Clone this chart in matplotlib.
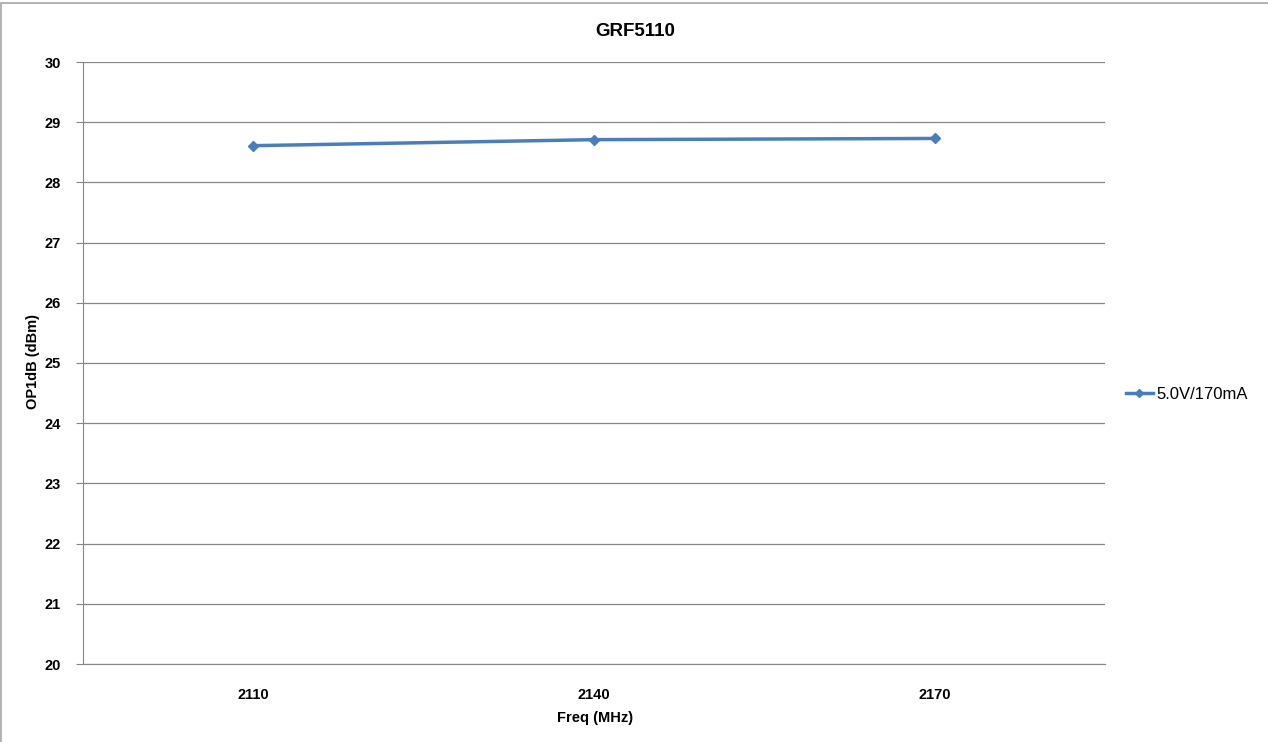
import matplotlib
matplotlib.use("Agg")
import matplotlib.pyplot as plt
from matplotlib.patches import Rectangle
from matplotlib.lines import Line2D

categories = ["2110", "2140", "2170"]
op1db = [28.61, 28.71, 28.73]
series_label = "5.0V/170mA"
y_ticks = [20, 21, 22, 23, 24, 25, 26, 27, 28, 29, 30]

W, H = 1268, 742
plt.rcParams['font.family'] = ['Liberation Sans', 'DejaVu Sans']
fig = plt.figure(figsize=(W / 100, H / 100), dpi=100)

# outer chart border (only left and top edges visible in the crop)
fig.patches.append(Rectangle((1 / W, -0.1), 2, 1.1 - 3 / H, transform=fig.transFigure,
                             fill=False, edgecolor='#a6a6a6', linewidth=1.2))

ax = fig.add_axes([83 / W, 1 - 664 / H, (1105 - 83) / W, (664 - 62) / H])
x = list(range(len(categories)))
color = '#4a7ebb'
ax.plot(x, op1db, color=color, linewidth=2.5, marker='D', markersize=5,
        markeredgecolor=color, markerfacecolor=color, zorder=3)

ax.set_xlim(-0.5, len(categories) - 0.5)
ax.set_ylim(20, 30)
ax.set_yticks(y_ticks)
ax.set_xticks(x)
ax.set_xticklabels(categories, fontsize=10.5, fontweight='bold')
ax.set_yticklabels([str(v) for v in y_ticks], fontsize=10.5, fontweight='bold')
ax.tick_params(axis='x', length=0, pad=17)
ax.tick_params(axis='y', length=5, color='#868686', pad=11)

ax.grid(axis='y', color='#868686', linewidth=0.9)
ax.set_axisbelow(True)
for s in ['top', 'right']:
    ax.spines[s].set_visible(False)
ax.spines['left'].set_color('#868686')
ax.spines['bottom'].set_color('#868686')

fig.text(635 / W, 1 - 31 / H, "GRF5110", ha='center', va='center',
         fontsize=13.5, fontweight='bold')
fig.text(595 / W, 1 - 718 / H, "Freq (MHz)", ha='center', va='center',
         fontsize=10.5, fontweight='bold')
fig.text(33 / W, 1 - 362 / H, "OP1dB (dBm)", ha='center', va='center',
         fontsize=10.5, fontweight='bold', rotation=90)

handle = Line2D([], [], color=color, linewidth=2.5, marker='D', markersize=4)
fig.legend([handle], [series_label], loc='center left',
           bbox_to_anchor=(1126 / W, 1 - 394 / H), frameon=False,
           fontsize=12, handlelength=1.6, handletextpad=0.2, borderaxespad=0,
           borderpad=0)

fig.savefig("out.png", dpi=100)
